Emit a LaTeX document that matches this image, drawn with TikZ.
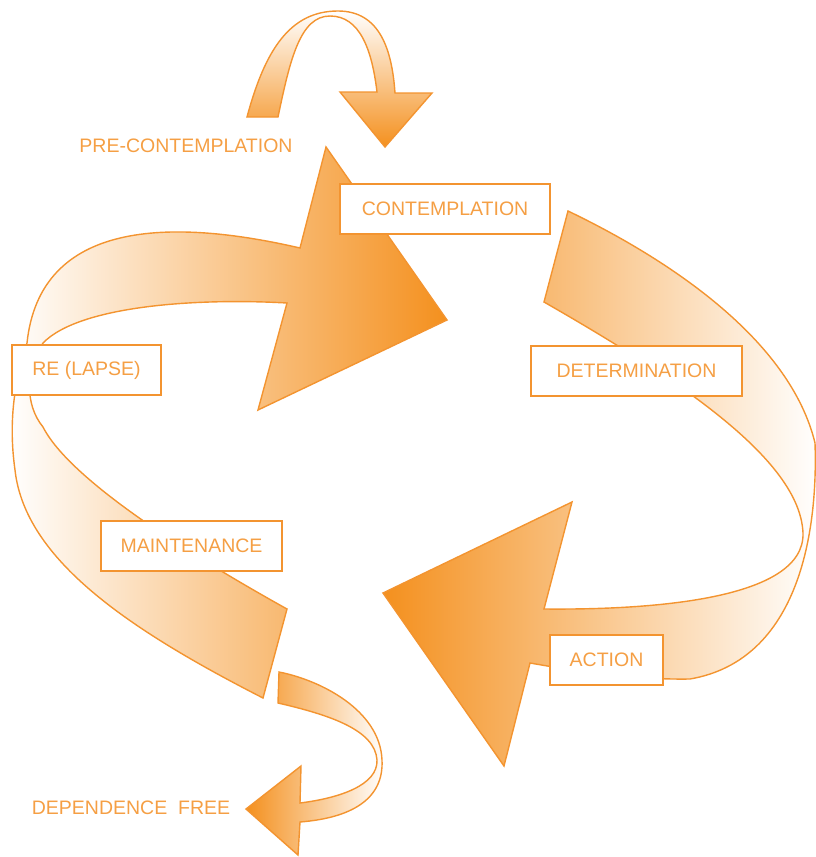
\documentclass[tikz,border=0pt]{standalone}
\usepackage{fontspec}
\setmainfont{Liberation Sans}
\definecolor{orS}{HTML}{F39430}
\definecolor{orD}{HTML}{F4901E}
\definecolor{orT}{HTML}{F59F44}
\begin{document}
\begin{tikzpicture}[x=1pt,y=-1pt,
  ribbon/.style={draw=orS, line width=1.4pt, line join=miter},
  lbl/.style={draw=orS, line width=1.4pt, fill=white, text=orT,
    font=\fontsize{19.5}{22}\selectfont, inner sep=0pt, minimum height=50pt},
  plain/.style={text=orT, font=\fontsize{19.5}{22}\selectfont, inner sep=0pt}]
\useasboundingbox (0,0) rectangle (816,857);

% top arrow (pre-contemplation -> contemplation)
\path[ribbon, top color=white, bottom color=orD]
  (247,117) .. controls (265,50) and (290,11) .. (338,11)
  .. controls (380,11) and (392,50) .. (395,93)
  -- (432,93) -- (385,147) -- (340,92) -- (377,92)
  .. controls (372,50) and (360,16) .. (330,16)
  .. controls (300,16) and (290,60) .. (278,117) -- cycle;

% left big arrow (relapse/maintenance -> contemplation)
\path[ribbon, left color=white, right color=orD]
  (263,698) .. controls (130,630) and (25,560) .. (15,470)
  .. controls (8,420) and (15,380) .. (27,343)
  .. controls (40,220) and (170,218) .. (300,248)
  -- (326,147) -- (447,320) -- (258,410) -- (287,303)
  .. controls (200,298) and (80,305) .. (43,343)
  .. controls (25,370) and (25,405) .. (43,427)
  .. controls (70,480) and (190,555) .. (287,609) -- cycle;

% right big arrow (determination -> action)
\path[ribbon, left color=orD, right color=white]
  (568,211) .. controls (670,260) and (790,340) .. (815,443)
  .. controls (818,530) and (800,660) .. (690,679)
  .. controls (630,680) and (570,670) .. (530,663)
  -- (504,766) -- (383,593) -- (572,502) -- (544,609)
  .. controls (650,610) and (805,600) .. (803,533)
  .. controls (800,460) and (680,380) .. (544,302) -- cycle;

% bottom arrow (maintenance -> dependence free)
\path[ribbon, left color=orD, right color=white]
  (279,672) .. controls (320,680) and (380,710) .. (382,760)
  .. controls (384,800) and (350,818) .. (300,822)
  -- (298,855) -- (246,809) -- (301,766) -- (300,803)
  .. controls (340,798) and (378,785) .. (377,760)
  .. controls (375,730) and (330,715) .. (278,703) -- cycle;

% labels
\node[lbl, minimum width=210pt] (contemplation) at (445,209) {CONTEMPLATION};
\node[lbl, minimum width=149pt] (relapse) at (86.5,370) {RE (LAPSE)};
\node[lbl, minimum width=211pt] (determination) at (636.5,371) {DETERMINATION};
\node[lbl, minimum width=181pt] (maintenance) at (191.5,546) {MAINTENANCE};
\node[lbl, minimum width=113pt] (action) at (606.5,660) {ACTION};
\node[plain] (pre) at (186,146) {PRE-CONTEMPLATION};
\node[plain] (free) at (131,808) {DEPENDENCE\ \ FREE};
\end{tikzpicture}
\end{document}
